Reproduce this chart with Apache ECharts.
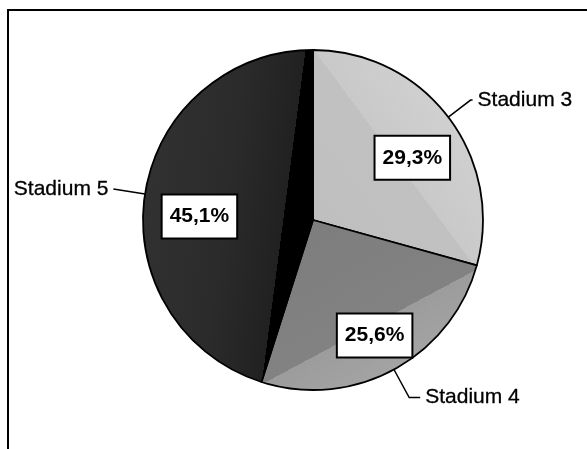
<!DOCTYPE html>
<html>
<head>
<meta charset="utf-8">
<script src="https://cdn.jsdelivr.net/npm/echarts@6/dist/echarts.min.js"></script>
<style>
  html, body { margin: 0; padding: 0; background: #fff; }
  #chart { width: 587px; height: 449px; }
</style>
</head>
<body>
<div id="chart"></div>
<script>
// Stage shares, percent
const stages = ['Stadium 3', 'Stadium 4', 'Stadium 5'];
const shares = [29.3, 25.6, 45.1];

const FONT = '"Liberation Sans", Arial, Helvetica, sans-serif';
const CENTER = [313, 220];
const RADIUS = 170;

// Banded gradient fills (absolute pixel coordinates)
const G = echarts.graphic.LinearGradient;
const fills = [
  new G(238, 115, 398, -4, [
    { offset: 0, color: '#bfbfbf' },
    { offset: 0.5, color: '#c1c1c1' },
    { offset: 0.5, color: '#c9c9c9' },
    { offset: 1, color: '#d3d3d3' }
  ], true),
  new G(322, 239, 416, 415, [
    { offset: 0, color: '#7e7e7e' },
    { offset: 0.5, color: '#828282' },
    { offset: 0.5, color: '#9c9c9c' },
    { offset: 1, color: '#ababab' }
  ], true),
  new G(137, 30, 335, 56, [
    { offset: 0, color: '#333333' },
    { offset: 0.55, color: '#2b2b2b' },
    { offset: 0.85, color: '#212121' },
    { offset: 0.85, color: '#000000' },
    { offset: 1, color: '#000000' }
  ], true)
];

// Leader line lengths for the outer name labels
const leader = [
  { length: 28, length2: 2 },
  { length: 32, length2: 11 },
  { length: 32, length2: 0 }
];
// Small nudges for the boxed percentage labels
const boxNudge = [[3, 11], [4, 9], [6, 15]];

const fmt = v => v.toFixed(1).replace('.', ',') + '%';

const chart = echarts.init(document.getElementById('chart'), null, { renderer: 'canvas' });

chart.setOption({
  backgroundColor: '#ffffff',
  animation: false,
  graphic: [{
    type: 'rect',
    shape: { x: 8, y: 10, width: 700, height: 600 },
    style: { fill: 'none', stroke: '#000', lineWidth: 2 },
    silent: true,
    z: 0
  }],
  series: [
    {
      type: 'pie',
      center: CENTER,
      radius: RADIUS,
      startAngle: 90,
      clockwise: true,
      avoidLabelOverlap: false,
      emphasis: { disabled: true },
      itemStyle: { borderColor: '#000', borderWidth: 1.8 },
      label: {
        show: true,
        position: 'outside',
        fontFamily: FONT,
        fontSize: 21,
        color: '#000',
        textBorderColor: '#000',
        textBorderWidth: 0.3,
        distanceToLabelLine: 5,
        formatter: p => p.name
      },
      labelLine: {
        show: true,
        lineStyle: { color: '#000', width: 1.5 }
      },
      data: stages.map((s, i) => ({
        name: s,
        value: shares[i],
        itemStyle: { color: fills[i] },
        labelLine: leader[i]
      })),
      z: 2
    },
    {
      type: 'pie',
      center: CENTER,
      radius: [66, RADIUS],
      startAngle: 90,
      clockwise: true,
      silent: true,
      emphasis: { disabled: true },
      itemStyle: { color: 'rgba(0,0,0,0)', borderWidth: 0 },
      label: {
        show: true,
        position: 'inside',
        fontFamily: FONT,
        fontSize: 21,
        fontWeight: 'bold',
        color: '#000',
        lineHeight: 22,
        backgroundColor: '#fff',
        borderColor: '#000',
        borderWidth: 2,
        padding: [10, 7],
        formatter: p => fmt(p.value)
      },
      labelLine: { show: false },
      data: stages.map((s, i) => ({
        name: s,
        value: shares[i],
        label: { offset: boxNudge[i] }
      })),
      z: 3
    }
  ]
});
</script>
</body>
</html>
